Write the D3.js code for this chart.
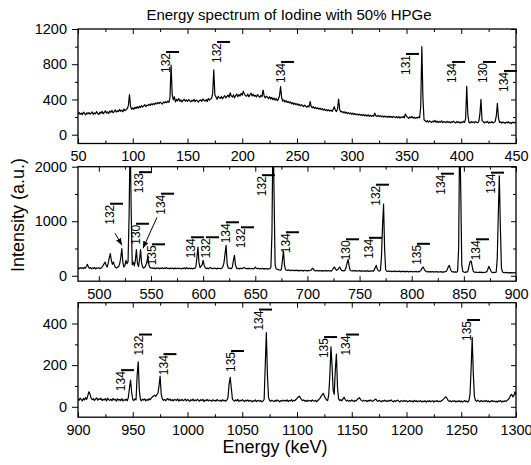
<!DOCTYPE html>
<html>
<head>
<meta charset="utf-8">
<script src="https://cdn.jsdelivr.net/npm/d3@7"></script>
<style>
  body { margin: 0; background: #fff; }
  svg { display: block; }
</style>
</head>
<body>
<svg id="chart" width="531" height="465"></svg>
<script>
// counts per 1 keV channel
const start1 = 50
const counts1 = [
  238, 252, 231, 246, 228, 255, 240, 224, 249, 236, // 50
  251, 233, 244, 258, 229, 247, 237, 262, 241, 230, // 60
  255, 243, 266, 238, 252, 271, 246, 259, 240, 268, // 70
  254, 276, 249, 263, 281, 257, 272, 262, 286, 266, // 80
  279, 260, 291, 273, 284, 297, 330, 455, 320, 290, // 90
  305, 288, 312, 296, 318, 301, 322, 309, 331, 314, // 100
  327, 340, 318, 336, 329, 347, 332, 351, 338, 356, // 110
  343, 361, 349, 366, 352, 370, 358, 347, 372, 361, // 120
  376, 363, 380, 368, 420, 790, 460, 395, 430, 372, // 130
  401, 385, 410, 378, 396, 372, 389, 402, 381, 394, // 140
  377, 399, 386, 372, 391, 380, 402, 375, 393, 384, // 150
  371, 389, 396, 378, 405, 391, 382, 398, 376, 410, // 160
  393, 405, 412, 470, 735, 450, 428, 401, 437, 419, // 170
  412, 434, 408, 427, 443, 418, 436, 449, 425, 475, // 180
  440, 428, 452, 419, 445, 461, 432, 456, 438, 470, // 190
  449, 495, 458, 443, 437, 462, 430, 451, 472, 440, // 200
  458, 436, 447, 429, 455, 438, 424, 446, 432, 505, // 210
  440, 418, 437, 426, 410, 431, 405, 423, 398, 416, // 220
  392, 410, 387, 402, 440, 545, 420, 380, 395, 371, // 230
  388, 366, 379, 360, 372, 351, 365, 344, 358, 340, // 240
  352, 335, 346, 327, 340, 331, 318, 336, 322, 312, // 250
  328, 315, 375, 320, 306, 318, 298, 311, 295, 304, // 260
  289, 301, 285, 296, 279, 291, 274, 287, 270, 283, // 270
  268, 279, 264, 285, 318, 280, 262, 290, 405, 285, // 280
  258, 266, 249, 262, 244, 256, 239, 251, 236, 248, // 290
  232, 245, 228, 240, 225, 237, 222, 234, 219, 231, // 300
  217, 229, 214, 226, 212, 224, 209, 221, 207, 219, // 310
  210, 245, 215, 208, 220, 205, 217, 203, 214, 200, // 320
  212, 199, 209, 196, 211, 198, 207, 195, 209, 201, // 330
  194, 206, 191, 204, 189, 202, 193, 208, 190, 235, // 340
  210, 197, 186, 203, 191, 207, 188, 200, 185, 196, // 350
  189, 201, 192, 320, 1000, 420, 170, 158, 146, 160, // 360
  143, 157, 148, 139, 155, 145, 162, 141, 153, 138, // 370
  150, 142, 158, 137, 149, 145, 136, 152, 140, 147, // 380
  135, 148, 139, 154, 142, 133, 150, 138, 146, 131, // 390
  144, 137, 152, 140, 180, 550, 230, 143, 132, 149, // 400
  138, 146, 134, 151, 140, 136, 148, 230, 400, 160, // 410
  148, 133, 145, 139, 152, 130, 143, 136, 149, 134, // 420
  141, 150, 210, 355, 190, 138, 146, 132, 144, 137, // 430
  129, 142, 135, 148, 131, 139, 127, 144, 134, 140, // 440
  136
]

const start2 = 480
const counts2 = [
  142, 128, 150, 135, 146, 131, 152, 138, 170, 210, // 480
  160, 137, 149, 128, 144, 133, 151, 126, 143, 137, // 490
  148, 131, 140, 155, 185, 220, 250, 190, 160, 230, // 500
  330, 405, 280, 210, 250, 190, 150, 142, 158, 170, // 510
  220, 330, 497, 250, 160, 190, 283, 220, 260, 1100, // 520
  2600, 1200, 200, 250, 180, 280, 480, 230, 170, 290, // 530
  480, 230, 160, 140, 155, 190, 250, 360, 200, 150, // 540
  138, 147, 131, 143, 128, 140, 135, 149, 126, 139, // 550
  133, 146, 129, 141, 136, 150, 131, 138, 127, 144, // 560
  132, 139, 125, 143, 130, 137, 128, 141, 133, 124, // 570
  139, 130, 145, 128, 150, 134, 127, 142, 131, 138, // 580
  126, 140, 133, 160, 330, 527, 240, 150, 175, 200, // 590
  283, 190, 145, 132, 140, 128, 143, 150, 135, 129, // 600
  141, 132, 138, 125, 142, 130, 136, 127, 139, 170, // 610
  240, 400, 558, 220, 145, 133, 139, 128, 160, 280, // 620
  375, 200, 140, 131, 137, 126, 140, 129, 135, 152, // 630
  140, 128, 136, 124, 139, 130, 127, 137, 125, 133, // 640
  160, 135, 128, 138, 124, 134, 127, 136, 122, 131, // 650
  125, 133, 120, 130, 128, 160, 800, 2800, 1500, 200, // 660
  130, 118, 112, 106, 100, 120, 280, 454, 200, 110, // 670
  104, 96, 109, 98, 92, 105, 95, 101, 90, 103, // 680
  94, 99, 88, 102, 93, 97, 86, 100, 91, 95, // 690
  89, 98, 92, 96, 115, 140, 110, 94, 87, 99, // 700
  92, 85, 97, 90, 94, 84, 96, 89, 93, 86, // 710
  95, 88, 92, 85, 110, 140, 160, 120, 100, 110, // 720
  140, 160, 115, 92, 95, 88, 100, 150, 230, 301, // 730
  180, 100, 92, 86, 95, 89, 93, 84, 91, 87, // 740
  94, 83, 90, 86, 92, 81, 89, 85, 93, 80, // 750
  88, 84, 91, 82, 100, 150, 190, 120, 92, 86, // 760
  95, 350, 900, 1312, 500, 110, 85, 80, 88, 78, // 770
  86, 75, 83, 79, 88, 74, 82, 77, 85, 73, // 780
  81, 76, 84, 72, 80, 75, 83, 71, 79, 74, // 790
  82, 70, 78, 73, 81, 69, 77, 72, 85, 100, // 800
  140, 160, 120, 90, 76, 70, 79, 68, 75, 71, // 810
  78, 67, 74, 70, 77, 66, 73, 69, 76, 65, // 820
  72, 68, 75, 80, 110, 160, 190, 130, 85, 70, // 830
  74, 67, 72, 65, 80, 500, 2700, 1600, 200, 80, // 840
  68, 62, 70, 64, 90, 180, 260, 270, 170, 85, // 850
  66, 60, 68, 63, 59, 67, 61, 65, 58, 64, // 860
  60, 66, 75, 120, 172, 130, 80, 62, 57, 63, // 870
  59, 70, 300, 1100, 1832, 900, 150, 70, 58, 55, // 880
  61, 56, 60, 53, 58, 52, 57, 54, 59, 51, // 890
  56
]

const start3 = 900
const counts3 = [
  38, 31, 42, 35, 29, 40, 33, 44, 36, 55, // 900
  72, 60, 41, 34, 39, 30, 37, 43, 32, 38, // 910
  35, 41, 30, 36, 33, 39, 28, 42, 34, 31, // 920
  37, 29, 40, 33, 36, 27, 38, 32, 35, 30, // 930
  39, 28, 34, 31, 37, 29, 45, 90, 128, 70, // 940
  36, 30, 38, 33, 150, 216, 80, 35, 29, 37, // 950
  32, 38, 28, 35, 31, 39, 34, 42, 48, 52, // 960
  56, 50, 58, 65, 100, 147, 60, 38, 31, 36, // 970
  29, 35, 40, 32, 37, 30, 34, 28, 36, 33, // 980
  31, 38, 27, 34, 30, 36, 29, 33, 37, 28, // 990
  35, 31, 26, 34, 30, 37, 28, 33, 29, 36, // 1000
  31, 27, 34, 30, 36, 25, 32, 29, 35, 28, // 1010
  33, 30, 26, 34, 29, 31, 27, 35, 30, 28, // 1020
  32, 26, 34, 29, 31, 27, 33, 45, 110, 141, // 1030
  90, 38, 30, 27, 33, 29, 35, 26, 31, 28, // 1040
  34, 30, 25, 32, 28, 33, 26, 31, 29, 24, // 1050
  30, 27, 33, 25, 29, 31, 26, 30, 24, 28, // 1060
  35, 200, 356, 150, 45, 30, 26, 32, 28, 25, // 1070
  31, 27, 33, 29, 24, 30, 26, 32, 28, 31, // 1080
  27, 33, 25, 30, 28, 34, 26, 31, 29, 35, // 1090
  40, 46, 51, 44, 36, 30, 33, 27, 31, 25, // 1100
  32, 28, 30, 26, 33, 29, 27, 31, 25, 30, // 1110
  35, 42, 50, 58, 64, 52, 40, 33, 30, 60, // 1120
  150, 288, 200, 80, 60, 180, 253, 90, 38, 30, // 1130
  34, 29, 38, 46, 35, 28, 32, 26, 30, 27, // 1140
  33, 29, 25, 31, 28, 35, 40, 44, 36, 29, // 1150
  27, 32, 28, 30, 25, 31, 27, 33, 29, 26, // 1160
  30, 34, 37, 29, 26, 31, 28, 24, 30, 27, // 1170
  32, 26, 29, 25, 31, 28, 33, 27, 24, 30, // 1180
  26, 29, 32, 27, 23, 30, 28, 25, 31, 26, // 1190
  29, 24, 27, 30, 25, 28, 23, 31, 26, 29, // 1200
  24, 28, 26, 30, 23, 27, 25, 29, 22, 28, // 1210
  25, 30, 24, 27, 29, 23, 28, 26, 30, 24, // 1220
  27, 25, 29, 33, 38, 44, 48, 40, 31, 26, // 1230
  29, 24, 28, 26, 30, 23, 27, 25, 29, 24, // 1240
  28, 22, 26, 30, 25, 27, 23, 29, 60, 180, // 1250
  333, 160, 50, 30, 26, 32, 28, 24, 30, 27, // 1260
  25, 29, 26, 31, 24, 28, 23, 27, 30, 25, // 1270
  28, 24, 27, 22, 29, 26, 30, 23, 27, 25, // 1280
  29, 26, 31, 35, 42, 55, 60, 48, 52, 72, // 1290
  58
]

const xDomain1 = [50, 450]
const xDomain2 = [480, 900]
const xDomain3 = [900, 1300]
const yDomain1 = [-100, 1200]
const yDomain2 = [-100, 2000]
const yDomain3 = [-50, 500]

const xTicks1 = [50, 100, 150, 200, 250, 300, 350, 400, 450]
const xMinor1 = [75, 125, 175, 225, 275, 325, 375, 425]
const xTicks2 = [500, 550, 600, 650, 700, 750, 800, 850, 900]
const xMinor2 = [525, 575, 625, 675, 725, 775, 825, 875]
const xTicks3 = [900, 950, 1000, 1050, 1100, 1150, 1200, 1250, 1300]
const xMinor3 = [925, 975, 1025, 1075, 1125, 1175, 1225, 1275]
const yTicks1 = [0, 400, 800, 1200]
const yMinor1 = [200, 600, 1000]
const yTicks2 = [0, 1000, 2000]
const yMinor2 = [500, 1500]
const yTicks3 = [0, 200, 400]
const yMinor3 = [100, 300]

// isotope labels: [energy, counts at foot of label, mass number]
const notes1 = [[130.4, 700, '132'], [177, 814, '132'], [235.4, 587, '134'], [349.5, 678, '131'],
  [391.6, 587, '134'], [419.9, 587, '130'], [439, 485, '134']]
const notes2 = [[510.7, 935, '132'], [538.5, 1514, '133'], [535.6, 568, '130'], [559.6, 1119, '134'],
  [551, 191, '135'], [588.4, 320, '134'], [602.7, 320, '132'], [621.9, 595, '134'], [636.3, 503, '132'],
  [656.4, 1459, '132'], [679.4, 412, '134'], [737, 283, '130'], [759, 310, '134'], [765.7, 1284, '132'],
  [805, 200, '135'], [828, 1486, '134'], [861.6, 283, '134'], [876, 1505, '134']]
const notes3 = [[939.3, 75, '134'], [955.7, 246, '132'], [978, 152, '134'], [1039.7, 167, '135'],
  [1065.3, 366, '134'], [1124.7, 234, '135'], [1144.7, 246, '134'], [1255.3, 316, '135']]
// arrows: [from energy, from counts, to energy, to counts]
const arrows2 = [[515.5, 779, 522.2, 560], [555.7, 1070, 542.3, 503]]

const title = 'Energy spectrum of Iodine with 50% HPGe'
const xTitle = 'Energy (keV)'
const yTitle = 'Intensity (a.u.)'

let font = "'Liberation Sans', Arial, sans-serif"
let plotLeft = 78
let plotWidth = 438
let plotHeight = 114.5
let tops = [29, 166.7, 302.7]

let panels = [
  {start: start1, counts: counts1, xDomain: xDomain1, yDomain: yDomain1, xTicks: xTicks1, xMinor: xMinor1,
    yTicks: yTicks1, yMinor: yMinor1, notes: notes1, arrows: []},
  {start: start2, counts: counts2, xDomain: xDomain2, yDomain: yDomain2, xTicks: xTicks2, xMinor: xMinor2,
    yTicks: yTicks2, yMinor: yMinor2, notes: notes2, arrows: arrows2},
  {start: start3, counts: counts3, xDomain: xDomain3, yDomain: yDomain3, xTicks: xTicks3, xMinor: xMinor3,
    yTicks: yTicks3, yMinor: yMinor3, notes: notes3, arrows: []}
]

let fmt = d3.format('d')

let svg = d3.select('#chart')
    .style('font-family', font)

svg.append('defs').append('marker')
    .attr('id', 'arrow')
    .attr('viewBox', '0 0 10 10')
    .attr('refX', 10)
    .attr('refY', 5)
    .attr('markerWidth', 7)
    .attr('markerHeight', 7)
    .attr('orient', 'auto')
  .append('path')
    .attr('d', 'M0,1L10,5L0,9z')
    .attr('fill', '#000')

function tidy(a, labels) {
  a.attr('font-family', font)
      .attr('font-size', 14.5)
  a.select('.domain').remove()
  a.selectAll('line')
      .attr('stroke', '#000')
      .attr('stroke-width', 1)
  a.selectAll('text')
      .attr('fill', '#000')
  if (!labels) a.selectAll('text').remove()
}

panels.forEach((p, i) => {
  let g = svg.append('g')
      .attr('transform', 'translate(' + plotLeft + ',' + tops[i] + ')')

  let x = d3.scaleLinear()
      .domain(p.xDomain)
      .range([0, plotWidth])

  let y = d3.scaleLinear()
      .domain(p.yDomain)
      .range([plotHeight, 0])

  g.append('clipPath')
      .attr('id', 'clip' + i)
    .append('rect')
      .attr('width', plotWidth)
      .attr('height', plotHeight)

  let line = d3.line()
      .x((d, j) => x(p.start + j))
      .y(d => y(d))

  g.append('path')
      .datum(p.counts)
      .attr('clip-path', 'url(#clip' + i + ')')
      .attr('fill', 'none')
      .attr('stroke', '#000')
      .attr('stroke-width', 1.2)
      .attr('stroke-linejoin', 'round')
      .attr('d', line)

  // left: ticks outside, right/top/bottom: ticks inside
  g.append('g').call(d3.axisLeft(y).tickValues(p.yTicks).tickFormat(fmt).tickSize(6).tickPadding(5)).call(tidy, true)
  g.append('g').call(d3.axisLeft(y).tickValues(p.yMinor).tickSize(3)).call(tidy, false)
  g.append('g').attr('transform', 'translate(' + plotWidth + ',0)')
      .call(d3.axisRight(y).tickValues(p.yTicks).tickSize(-5)).call(tidy, false)
  g.append('g').attr('transform', 'translate(' + plotWidth + ',0)')
      .call(d3.axisRight(y).tickValues(p.yMinor).tickSize(-3)).call(tidy, false)
  g.append('g').attr('transform', 'translate(0,' + plotHeight + ')')
      .call(d3.axisBottom(x).tickValues(p.xTicks).tickFormat(fmt).tickSize(-5).tickPadding(7.2)).call(tidy, true)
  g.append('g').attr('transform', 'translate(0,' + plotHeight + ')')
      .call(d3.axisBottom(x).tickValues(p.xMinor).tickSize(-3)).call(tidy, false)
  g.append('g')
      .call(d3.axisTop(x).tickValues(p.xTicks).tickSize(-5)).call(tidy, false)
  g.append('g')
      .call(d3.axisTop(x).tickValues(p.xMinor).tickSize(-3)).call(tidy, false)

  g.append('rect')
      .attr('width', plotWidth)
      .attr('height', plotHeight)
      .attr('fill', 'none')
      .attr('stroke', '#000')
      .attr('stroke-width', 1.3)

  p.notes.forEach(n => {
    let tx = x(n[0])
    let ty = y(n[1])
    let t = g.append('text')
        .attr('transform', 'translate(' + tx + ',' + ty + ') rotate(-90)')
        .attr('dy', '0.35em')
        .attr('font-size', 12)
        .attr('fill', '#000')
        .text(n[2])
    let len = t.node().getComputedTextLength()
    g.append('line')
        .attr('x1', tx)
        .attr('x2', tx + 13)
        .attr('y1', ty - len - 1)
        .attr('y2', ty - len - 1)
        .attr('stroke', '#000')
        .attr('stroke-width', 2)
  })

  p.arrows.forEach(a => {
    g.append('line')
        .attr('x1', x(a[0]))
        .attr('y1', y(a[1]))
        .attr('x2', x(a[2]))
        .attr('y2', y(a[3]))
        .attr('stroke', '#000')
        .attr('stroke-width', 1)
        .attr('marker-end', 'url(#arrow)')
  })
})

svg.append('text')
    .attr('x', 289)
    .attr('y', 19.5)
    .attr('text-anchor', 'middle')
    .attr('font-size', 15)
    .text(title)

svg.append('text')
    .attr('x', 275)
    .attr('y', 452.5)
    .attr('text-anchor', 'middle')
    .attr('font-size', 18)
    .text(xTitle)

svg.append('text')
    .attr('transform', 'translate(24,215) rotate(-90)')
    .attr('text-anchor', 'middle')
    .attr('font-size', 18)
    .text(yTitle)
</script>
</body>
</html>
